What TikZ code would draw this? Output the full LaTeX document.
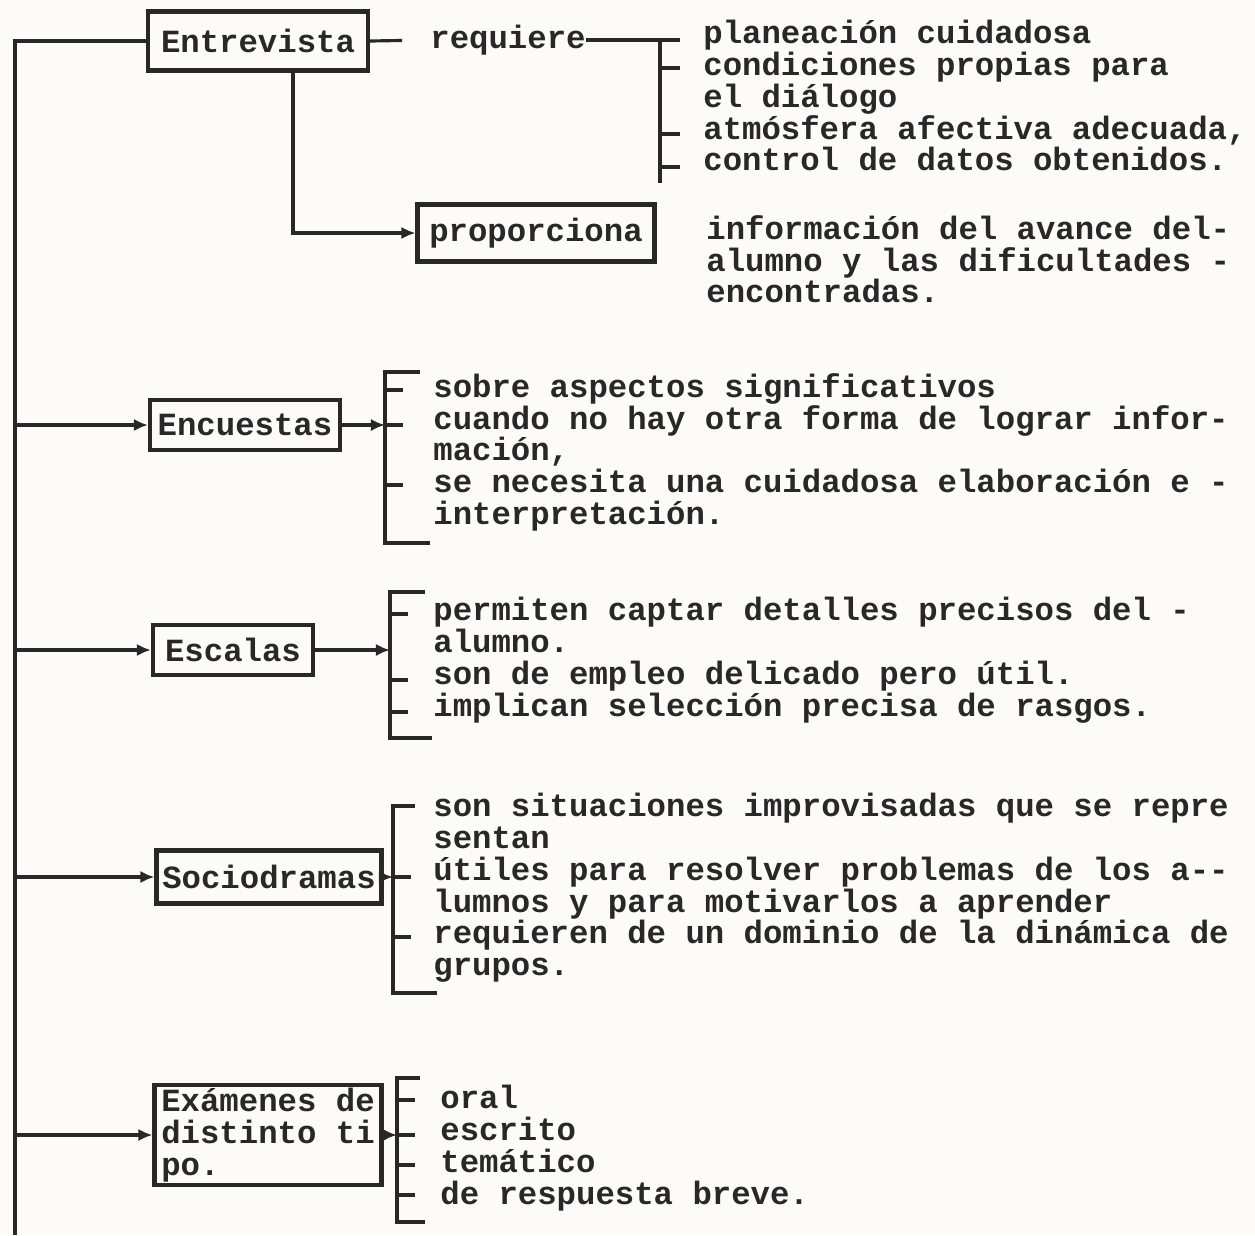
\documentclass[tikz,border=0pt]{standalone}
\usepackage{fontspec}
\setmonofont{Liberation Mono}
\usepackage{tikz}
\usetikzlibrary{arrows.meta,positioning,calc}
\definecolor{ink}{RGB}{40,40,40}
\definecolor{paper}{RGB}{252,251,247}

\begin{document}
\begin{tikzpicture}[x=0.02cm, y=-0.02cm,
          every node/.style={font=\ttfamily\bfseries\fontsize{18.4}{18.1}\selectfont, text=ink},
          box/.style={draw=ink, line width=2.4pt, inner sep=0pt,
                      minimum width=3.8cm, minimum height=1cm},
          lista/.style={anchor=north west, align=left, inner sep=0pt,
                      execute at begin node=\strut},
          conn/.style={draw=ink, line width=1.8pt},
          arr/.style={conn, -{Latex[length=8pt,width=7pt]}}
        ]
          \path[use as bounding box, fill=paper] (0,0) rectangle (1255,1235);
          \coordinate (trunk) at (15,0);

          \node[box, minimum width=4.4cm, minimum height=1.18cm] (entre) at (258,41) {Entrevista};
          \node[inner sep=0pt] (req) at (508,40) {requiere};
          \node[box, minimum width=4.74cm, minimum height=1.14cm] (prop) at (536,233) {proporciona};
          \node[box] (encu) at (245,425) {Encuestas};
          \node[box, minimum width=3.2cm] (esca) at (233,650) {Escalas};
          \node[box, minimum width=4.5cm, minimum height=1.06cm] (socio) at (269,877) {Sociodramas};
          \node[box, minimum width=4.54cm, minimum height=2cm, align=left] (exam) at (268,1135)
            {Exámenes de\\distinto ti\\po.};

          % trunk and branches
          \draw[conn] (entre.west) -- (trunk |- entre.west) -- (15,1235);
          \draw[conn, shorten >=0.56cm] (entre.east) -- (req.west);
          \draw[arr] ([xshift=0.7cm]entre.south) |- (prop.west);
          \foreach \n in {encu,esca,socio,exam}
            \draw[arr] (trunk |- \n.west) -- (\n.west);

          % brackets
          \coordinate (bA) at (660,40);
          \draw[conn] (req.east) -- (bA) -- ++(20,0) (bA) -- (660,183);
          \foreach \y in {68,134,167} \draw[conn] (660,\y) -- ++(20,0);

          \coordinate (bB) at (385,425);
          \draw[arr] (encu.east) -- (bB);
          \draw[conn] (420,372) -- (385,372) -- (385,543) -- (430,543);
          \foreach \y in {390,425,485} \draw[conn] (385,\y) -- ++(18,0);

          \coordinate (bC) at (390,650);
          \draw[arr] (esca.east) -- (bC);
          \draw[conn] (425,592) -- (390,592) -- (390,738) -- (432,738);
          \foreach \y in {614,680,712} \draw[conn] (390,\y) -- ++(18,0);

          \coordinate (bD) at (393,877);
          \draw[arr] (socio.east) -- (bD);
          \draw[conn] (415,806) -- (393,806) -- (393,993) -- (437,993);
          \foreach \y in {877,937} \draw[conn] (393,\y) -- ++(18,0);

          \coordinate (bE) at (397,1135);
          \draw[arr] (exam.east) -- (bE);
          \draw[conn] (420,1078) -- (397,1078) -- (397,1222) -- (425,1222);
          \foreach \y in {1100,1135,1165,1195} \draw[conn] (397,\y) -- ++(18,0);

          % item texts
          \node[lista] (reqL) at (703,20)
            {planeación cuidadosa\\condiciones propias para\\el diálogo\\atmósfera afectiva adecuada,\\control de datos obtenidos.};
          \node[lista] (propL) at (706,215)
            {información del avance del-\\alumno y las dificultades -\\encontradas.};
          \node[lista] (encuL) at (433,373)
            {sobre aspectos significativos\\cuando no hay otra forma de lograr infor-\\mación,\\se necesita una cuidadosa elaboración e -\\interpretación.};
          \node[lista] (escaL) at (433,597)
            {permiten captar detalles precisos del -\\alumno.\\son de empleo delicado pero útil.\\implican selección precisa de rasgos.};
          \node[lista] (socioL) at (433,793)
            {son situaciones improvisadas que se repre\\sentan\\útiles para resolver problemas de los a--\\lumnos y para motivarlos a aprender\\requieren de un dominio de la dinámica de\\grupos.};
          \node[lista] (examL) at (440,1085)
            {oral\\escrito\\temático\\de respuesta breve.};
        \end{tikzpicture}
\end{document}
